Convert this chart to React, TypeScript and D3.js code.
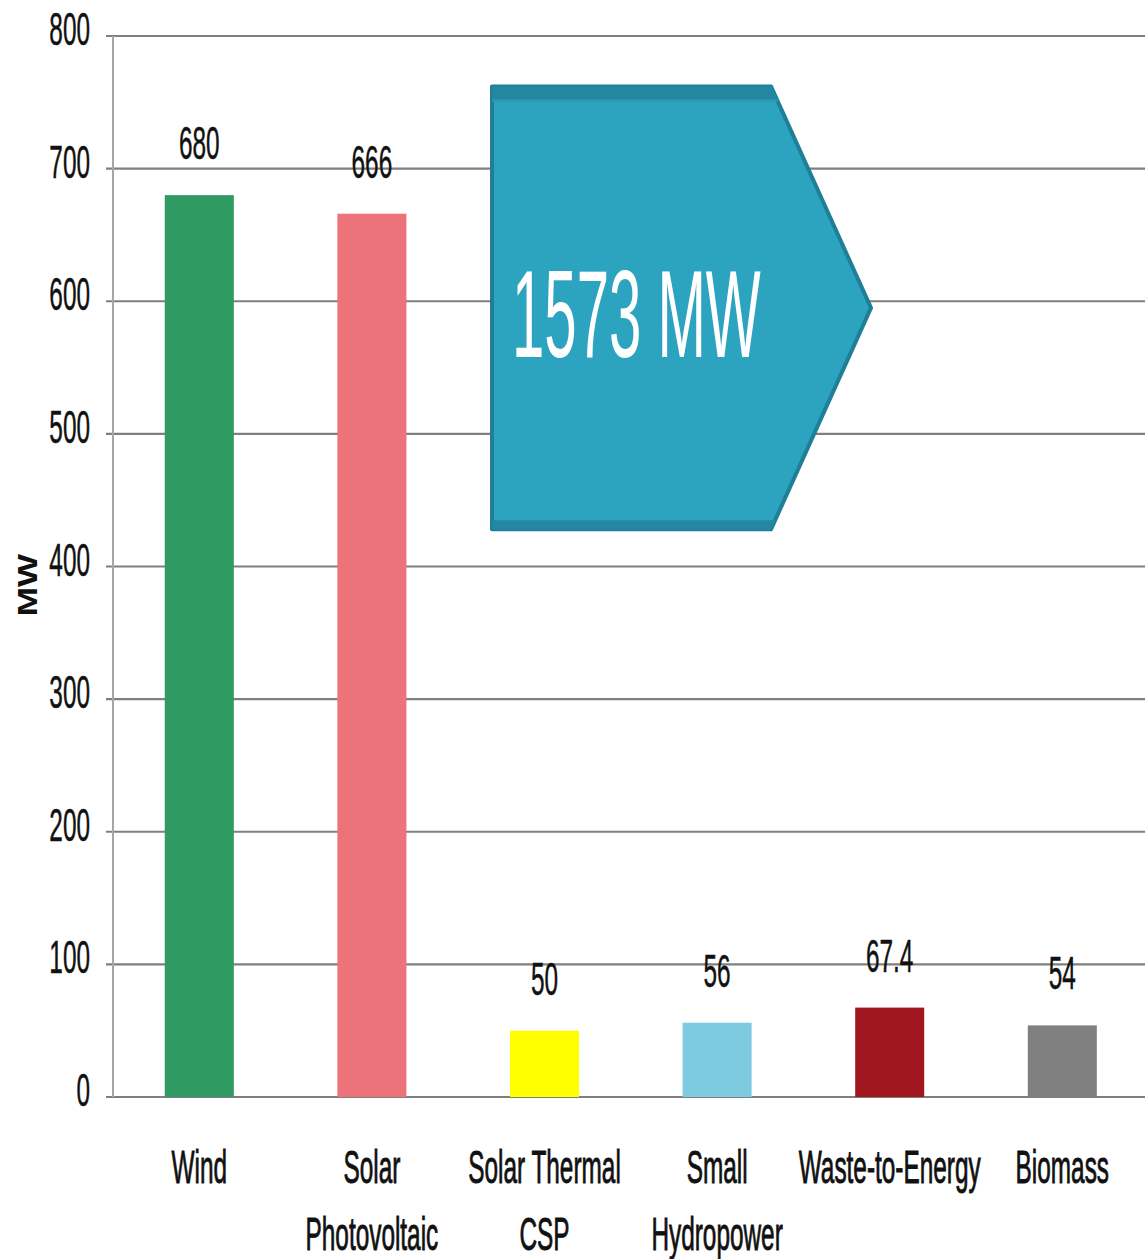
import React from "react";
import * as d3 from "d3";

const categories = ["Wind", "Solar Photovoltaic", "Solar Thermal CSP", "Small Hydropower", "Waste-to-Energy", "Biomass"];
const labelLines = [["Wind"], ["Solar", "Photovoltaic"], ["Solar Thermal", "CSP"], ["Small", "Hydropower"], ["Waste-to-Energy"], ["Biomass"]];
const values = [680, 666, 50, 56, 67.4, 54];
const valueLabels = ["680", "666", "50", "56", "67.4", "54"];
const colors = ["#2f9a62", "#ec7379", "#ffff00", "#7ecae0", "#a1171f", "#808080"];
const yTicks = [0, 100, 200, 300, 400, 500, 600, 700, 800];
const totalLabel = "1573 MW";

const W = 1145;
const H = 1259;
const FONT = "'Liberation Sans Narrow', 'Liberation Sans', Arial, sans-serif";
const SX = 0.53;

export default function App() {
  const y = d3.scaleLinear().domain([0, 800]).range([1097, 36]);
  const x = d3.scaleBand<string>().domain(categories).range([113, 1148.6]).paddingInner(0.6).paddingOuter(0.3);

  // arrow callout, placed in chart units
  const ax0 = 492, ax1 = 771, axTip = 871;
  const ay0 = y(762), ay1 = y(428), ayMid = (ay0 + ay1) / 2;
  const arrow = d3.line()([[ax0, ay0], [ax1, ay0], [axTip, ayMid], [ax1, ay1], [ax0, ay1]]) + "Z";

  return (
    <svg width={W} height={H} style={{ position: "absolute", left: 0, top: 0, background: "#fff" }}>
      {/* gridlines */}
      {yTicks.map(t => (
        <line key={t} x1={106} x2={W} y1={y(t)} y2={y(t)} stroke="#7f7f7f" strokeWidth={2.2} />
      ))}
      <line x1={113} x2={113} y1={y(800)} y2={y(0)} stroke="#a6a6a6" strokeWidth={2} />

      {/* tick labels */}
      {yTicks.map(t => (
        <text key={t} transform={`translate(90,${y(t) - 7}) scale(${SX},1)`} textAnchor="end" dy="0.35em"
          fontFamily={FONT} fontSize={46} fill="#111" stroke="#111" strokeWidth={0.5}>{t}</text>
      ))}

      {/* y title */}
      <text transform="translate(28,585) rotate(-90) scale(1.3,1)" textAnchor="middle" dy="0.35em"
        fontFamily="'Liberation Sans', Arial, sans-serif" fontWeight="bold" fontSize={27} fill="#111">MW</text>

      {/* bars */}
      {categories.map((c, i) => (
        <rect key={c} x={x(c)} y={y(values[i])} width={x.bandwidth()} height={y(0) - y(values[i])} fill={colors[i]} />
      ))}

      {/* value labels */}
      {categories.map((c, i) => (
        <text key={c} transform={`translate(${x(c)! + x.bandwidth() / 2},${y(values[i]) - 36}) scale(${SX},1)`}
          textAnchor="middle" fontFamily={FONT} fontSize={46} fill="#111" stroke="#111" strokeWidth={0.5}>{valueLabels[i]}</text>
      ))}

      {/* category labels */}
      {categories.map((c, i) => (
        <g key={c} transform={`translate(${x(c)! + x.bandwidth() / 2},0)`}>
          {labelLines[i].map((ln, j) => (
            <text key={j} transform={`translate(0,${1183 + j * 67}) scale(${SX},1)`} textAnchor="middle"
              fontFamily={FONT} fontSize={46} fill="#111" stroke="#111" strokeWidth={0.9}>{ln}</text>
          ))}
        </g>
      ))}

      {/* total arrow */}
      <path d={arrow} fill="#2ca3bf" stroke="#1f7f98" strokeWidth={4} strokeLinejoin="round" />
      <path d={`M${ax0},${ay0}L${ax1},${ay0}L${ax1 + 7},${ay0 + 13}L${ax0},${ay0 + 13}Z`} fill="#2588a3" />
      <line x1={ax0} x2={ax1 + 7} y1={ay0 + 14} y2={ay0 + 14} stroke="#2b97b2" strokeWidth={2} />
      <path d={`M${ax0},${ay1}L${ax1},${ay1}L${ax1 + 5},${ay1 - 9}L${ax0},${ay1 - 9}Z`} fill="#2588a3" />
      <text transform={`translate(512,357) scale(0.465,1)`} fontFamily={FONT} fontSize={125} fill="#fff">{totalLabel}</text>
    </svg>
  );
}
